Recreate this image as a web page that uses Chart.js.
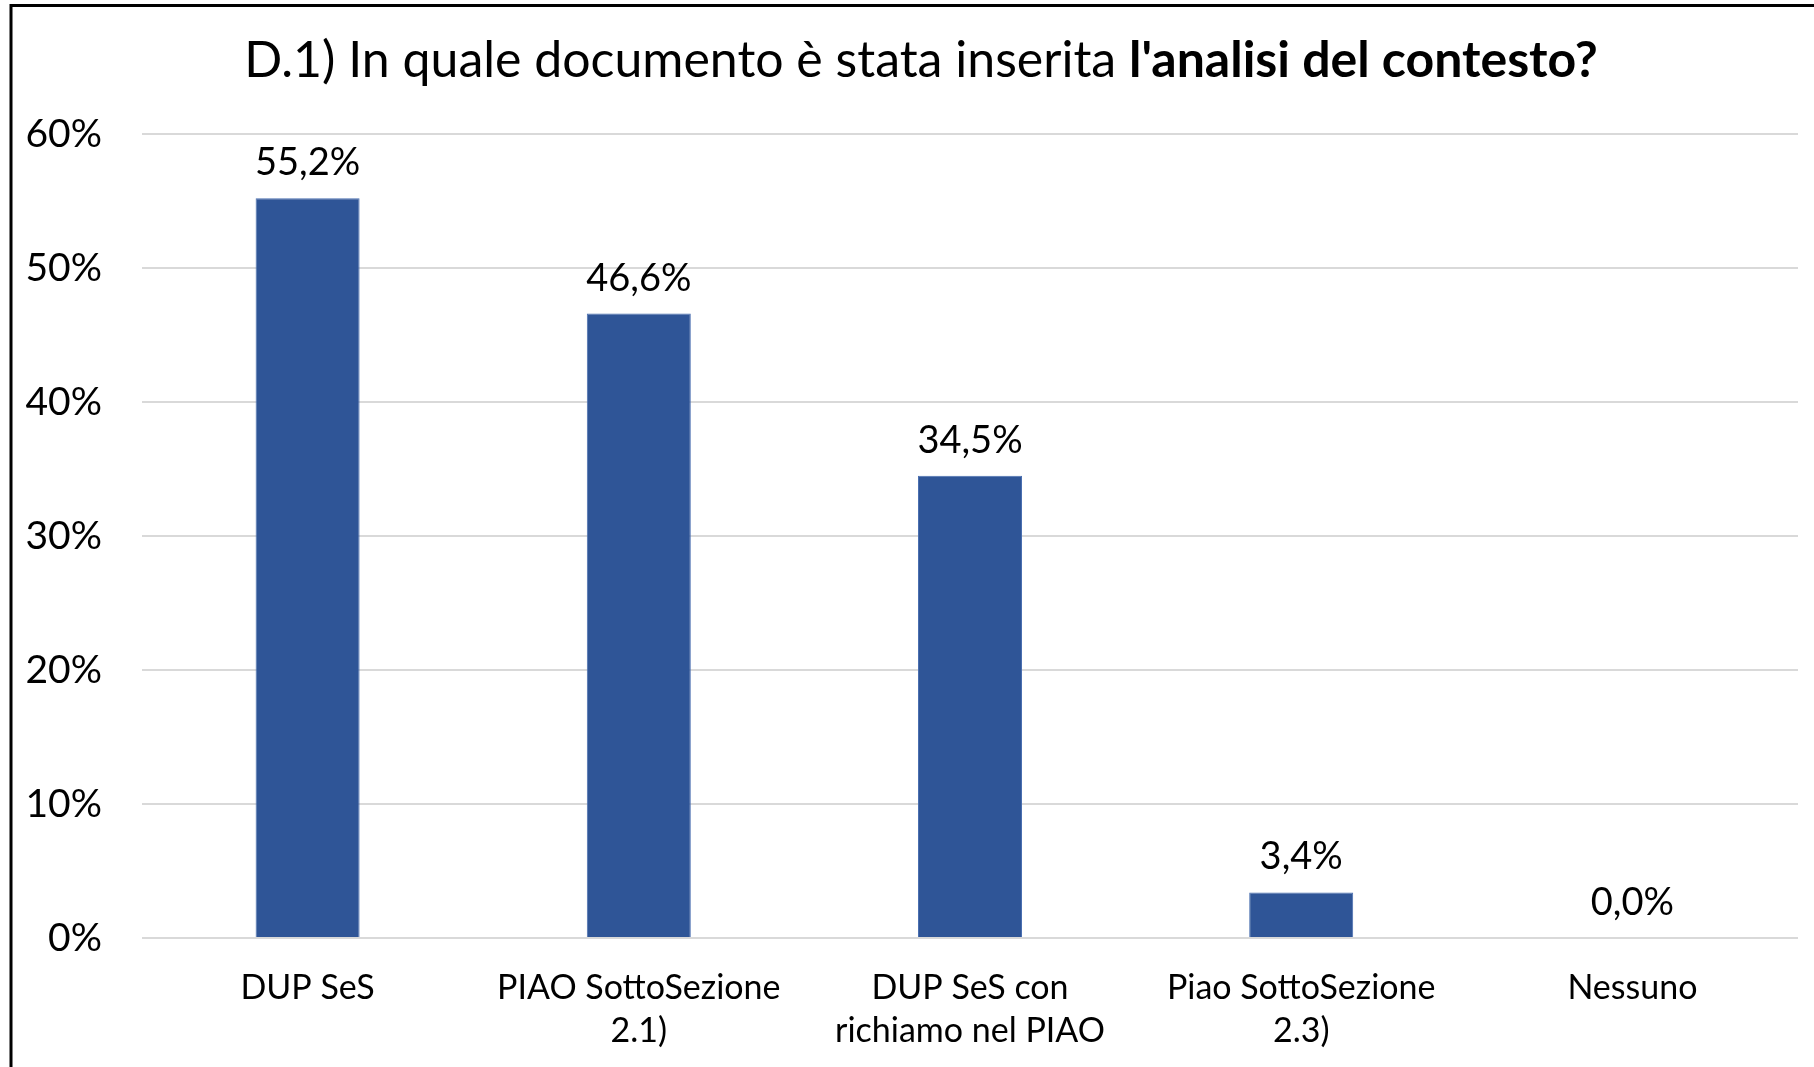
<!DOCTYPE html>
<html>
<head>
<meta charset="utf-8">
<script src="https://cdn.jsdelivr.net/npm/chart.js@4.4.1/dist/chart.umd.min.js"></script>
<style>
  html, body { margin: 0; padding: 0; background: #fff; }
  canvas { display: block; }
</style>
</head>
<body>
<canvas id="chart" width="1814" height="1067"></canvas>
<script>
// Dati del grafico
const categories = ['DUP SeS', ['PIAO SottoSezione', '2.1)'], ['DUP SeS con', 'richiamo nel PIAO'], ['Piao SottoSezione', '2.3)'], 'Nessuno'];
const values = [55.2, 46.6, 34.5, 3.4, 0.0];
const yTickLabels = ['0%', '10%', '20%', '30%', '40%', '50%', '60%'];
const titleRegular = 'D.1) In quale documento è stata inserita ';
const titleBold = "l'analisi del contesto?";

const FONT = 'Lato, "Open Sans", sans-serif';

// format 55.2 -> "55,2%"
function fmt(v) {
    return v.toFixed(1).replace('.', ',') + '%';
}

// cornice e sfondo
const framePlugin = {
    id: 'frame',
    beforeDraw(chart) {
        const ctx = chart.ctx;
        ctx.save();
        ctx.fillStyle = '#fff';
        ctx.fillRect(0, 0, chart.width, chart.height);
        ctx.strokeStyle = '#000';
        ctx.lineWidth = 3;
        ctx.beginPath();
        ctx.moveTo(11, chart.height);
        ctx.lineTo(11, 5.5);
        ctx.lineTo(chart.width, 5.5);
        ctx.stroke();
        ctx.restore();
    }
};

// titolo con parte in grassetto
const titlePlugin = {
    id: 'mixedTitle',
    afterDraw(chart) {
        const ctx = chart.ctx;
        ctx.save();
        ctx.fillStyle = '#000';
        ctx.textBaseline = 'alphabetic';
        ctx.font = '50px ' + FONT;
        const w1 = ctx.measureText(titleRegular).width;
        ctx.font = 'bold 50px ' + FONT;
        const w2 = ctx.measureText(titleBold).width;
        const x = 921 - (w1 + w2) / 2;
        ctx.font = '50px ' + FONT;
        ctx.fillText(titleRegular, x, 77);
        ctx.font = 'bold 50px ' + FONT;
        ctx.fillText(titleBold, x + w1, 77);
        ctx.restore();
    }
};

// etichette sopra le barre
const labelPlugin = {
    id: 'barLabels',
    afterDatasetsDraw(chart) {
        const ctx = chart.ctx;
        const meta = chart.getDatasetMeta(0);
        ctx.save();
        ctx.font = '38px ' + FONT;
        ctx.fillStyle = '#000';
        ctx.textAlign = 'center';
        ctx.textBaseline = 'alphabetic';
        meta.data.forEach((bar, i) => {
            ctx.fillText(fmt(values[i]), bar.x, bar.y - 23);
        });
        ctx.restore();
    }
};

const ctx = document.getElementById('chart').getContext('2d');
new Chart(ctx, {
    type: 'bar',
    data: {
        labels: categories,
        datasets: [{
            data: values,
            backgroundColor: '#2F5597',
            borderColor: '#4A6FB0',
            borderWidth: 1,
            categoryPercentage: 1,
            barPercentage: 0.314
        }]
    },
    options: {
        responsive: false,
        animation: false,
        devicePixelRatio: 1,
        layout: {
            padding: { left: 0, right: 16, top: 134, bottom: 0 }
        },
        plugins: {
            legend: { display: false },
            title: { display: false },
            tooltip: { enabled: false }
        },
        scales: {
            x: {
                grid: { display: false, drawTicks: false },
                border: { display: false },
                ticks: {
                    color: '#000',
                    font: { family: FONT, size: 34, lineHeight: 1.27 },
                    padding: 28,
                    maxRotation: 0,
                    autoSkip: false
                },
                afterFit(scale) { scale.height = 129; }
            },
            y: {
                min: 0,
                max: 60,
                grid: { color: '#D9D9D9', lineWidth: 2, drawTicks: false },
                border: { display: false },
                ticks: {
                    stepSize: 10,
                    color: '#000',
                    font: { family: FONT, size: 39 },
                    padding: 40,
                    callback: (v, i) => yTickLabels[i]
                },
                afterFit(scale) { scale.width = 142; }
            }
        }
    },
    plugins: [framePlugin, titlePlugin, labelPlugin]
});
</script>
</body>
</html>
